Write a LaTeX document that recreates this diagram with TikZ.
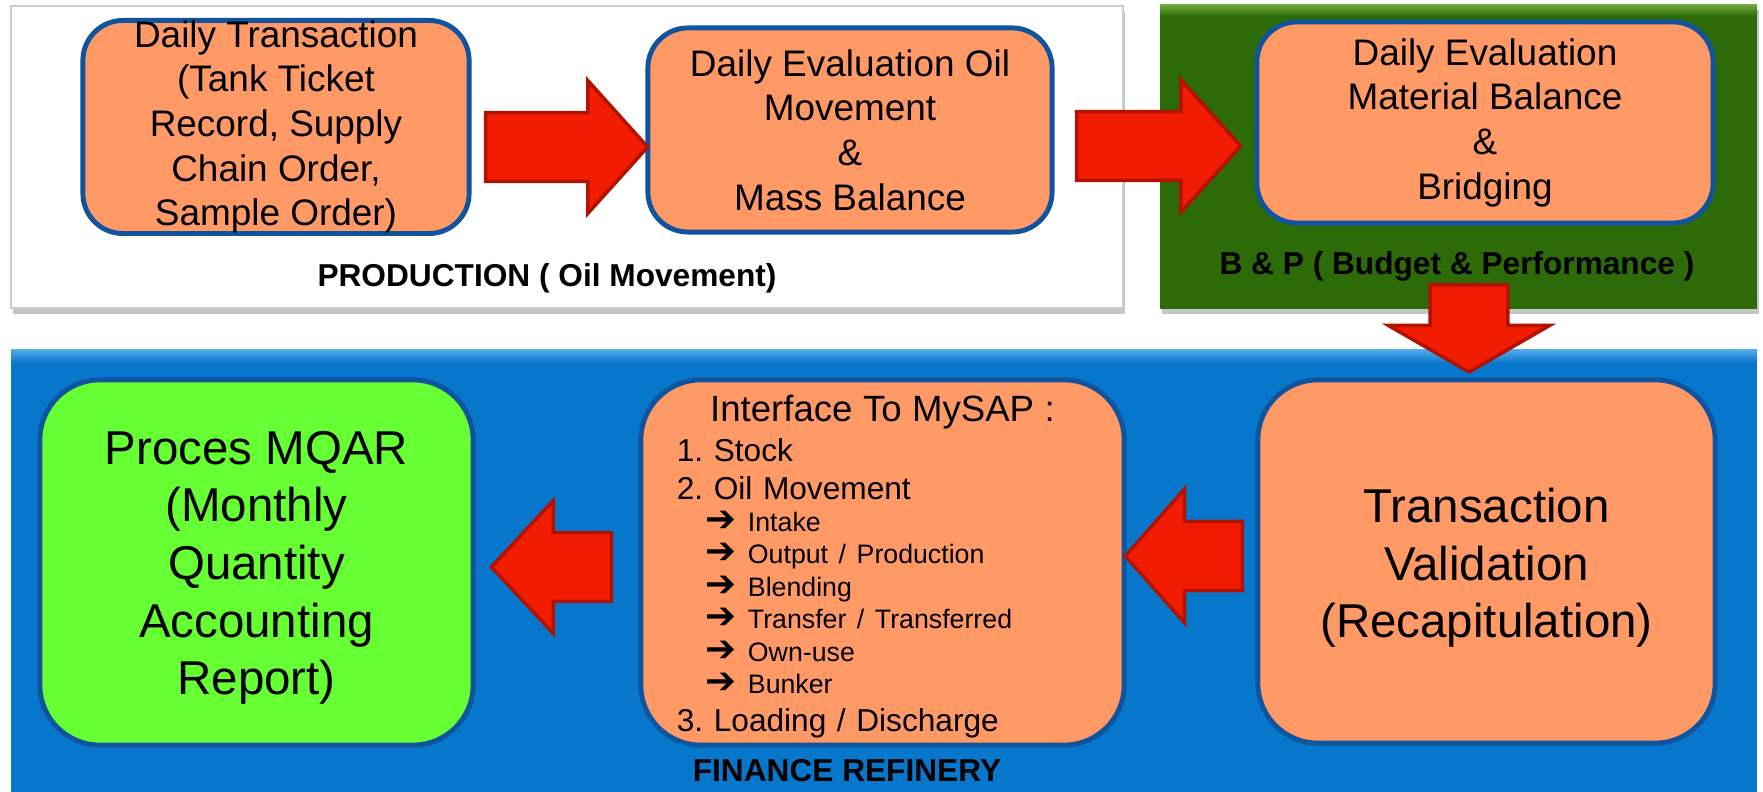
\documentclass[tikz,border=0pt]{standalone}
\usepackage{fontspec}
\setmainfont{Liberation Sans}
\newfontfamily\arrowfont{DejaVu Sans}
\usepackage{tikz}
\usetikzlibrary{shapes.arrows,shadows,positioning,calc}
\setlength{\parindent}{0pt}
\frenchspacing
\definecolor{boxfill}{RGB}{255,153,102}
\definecolor{boxline}{RGB}{16,84,158}
\definecolor{mqarfill}{RGB}{102,255,51}
\definecolor{finblue}{RGB}{7,119,204}
\definecolor{finbluelight}{RGB}{80,170,235}
\definecolor{bpgreen}{RGB}{45,106,8}
\definecolor{bpgreenlight}{RGB}{110,170,60}
\definecolor{arrowred}{RGB}{242,28,0}
\definecolor{arrowline}{RGB}{178,18,0}
\tikzstyle{flow}=[
  x=0.01cm,y=-0.01cm,font=\fontsize{10.5}{12.7}\selectfont
]
\tikzstyle{procbox}=[
  draw=boxline,line width=1.4pt,fill=boxfill,rounded corners=0.4cm,inner sep=0pt,align=center
]
\tikzstyle{bigbox}=[
  procbox,rounded corners=0.6cm,font=\fontsize{13.5}{16.4}\selectfont
]
\tikzstyle{blockarrow}=[
  single arrow,draw=arrowline,line width=1pt,fill=arrowred,inner sep=0pt,anchor=tip,
  text height=0.325cm,text depth=0.325cm,single arrow head extend=0.32cm
]
\tikzstyle{paneltitle}=[
  font=\bfseries\fontsize{9}{11}\selectfont,anchor=base
]
\newcommand{\sapitem}[1]{{\fontsize{7.6}{9.2}\selectfont\hspace*{0.29cm}\makebox[0.42cm][l]{\arrowfont\bfseries\fontsize{10.5}{9}\selectfont ➔}#1\par}}

\begin{document}
\begin{tikzpicture}[flow]
  \useasboundingbox (0,0) rectangle (1763,792);
  \fill[white] (0,0) rectangle (1763,792);
  % panels
  \draw[draw=black!20,fill=white,drop shadow={shadow xshift=0.02cm,shadow yshift=-0.06cm,opacity=0.45}] (11,6) rectangle (1123,308);
  \fill[bpgreen,drop shadow={shadow xshift=0.02cm,shadow yshift=-0.05cm,opacity=0.45}] (1160,5) rectangle (1757,309);
  \shade[top color=bpgreenlight,bottom color=bpgreen] (1160,5) rectangle (1757,16);
  \fill[finblue] (11,350) rectangle (1757,792);
  \shade[top color=finbluelight,bottom color=finblue] (11,350) rectangle (1757,363);

  \node[paneltitle] (prodtitle) at (547,287) {PRODUCTION ( Oil Movement)};
  \node[paneltitle] (bptitle) at (1457,275) {B \& P ( Budget \& Performance )};
  \node[paneltitle] (fintitle) at (847,782) {FINANCE REFINERY};

  % process boxes
  \node[procbox,minimum width=3.86cm,minimum height=2.10cm] (trans) at (276,127)
    {Daily Transaction\\(Tank Ticket\\Record, Supply\\Chain Order,\\Sample Order)};
  \node[procbox,minimum width=4.04cm,minimum height=2.04cm] (evaloil) at (850,130)
    {Daily Evaluation Oil\\Movement\\\&\\Mass Balance};
  \node[procbox,minimum width=4.56cm,minimum height=2.01cm] (evalmat) at (1485,122.5)
    {Daily Evaluation\\Material Balance\\\&\\Bridging};
  \node[bigbox,fill=mqarfill,minimum width=4.33cm,minimum height=3.65cm] (mqar) at (256.5,562.5)
    {\rule{0pt}{12.5pt}Proces MQAR\\(Monthly\\Quantity\\Accounting\\Report)};
  \node[bigbox,minimum width=4.83cm,minimum height=3.65cm,text width=4.11cm,align=left,
        font=\fontsize{9}{10.8}\selectfont] (mysap) at (882.5,562.5) {%
    {\centering\fontsize{10.4}{12}\selectfont\rule{0pt}{9.7pt}Interface To MySAP :\par}
    {\fontsize{9}{11.4}\selectfont 1. Stock\par}
    2. Oil Movement\par
    \sapitem{Intake}
    \sapitem{Output / Production}
    \sapitem{Blending}
    \sapitem{Transfer / Transferred}
    \sapitem{Own-use}
    \sapitem{Bunker}
    3. Loading / Discharge\par};
  \node[bigbox,minimum width=4.57cm,minimum height=3.63cm] (recap) at (1486.5,561.5)
    {\rule{0pt}{13.5pt}Transaction\\Validation\\(Recapitulation)};

  % block arrows
  \node[blockarrow,minimum height=1.62cm,minimum width=1.29cm,single arrow tip angle=96] (toeval) at (650,147) {};
  \node[blockarrow,minimum height=1.64cm,minimum width=1.28cm,single arrow tip angle=96] (tomat) at (1243,146) {};
  \node[blockarrow,rotate=-90,minimum height=0.87cm,minimum width=1.58cm,text height=0.37cm,text depth=0.37cm,
        single arrow head extend=0.42cm,single arrow tip angle=120] (torecap) at (1469,374) {};
  \node[blockarrow,rotate=180,minimum height=1.17cm,minimum width=1.34cm,single arrow tip angle=97] (tosap) at (1123,556) {};
  \node[blockarrow,rotate=180,minimum height=1.20cm,minimum width=1.33cm,single arrow tip angle=94] (tomqar) at (489,567) {};
\end{tikzpicture}
\end{document}
